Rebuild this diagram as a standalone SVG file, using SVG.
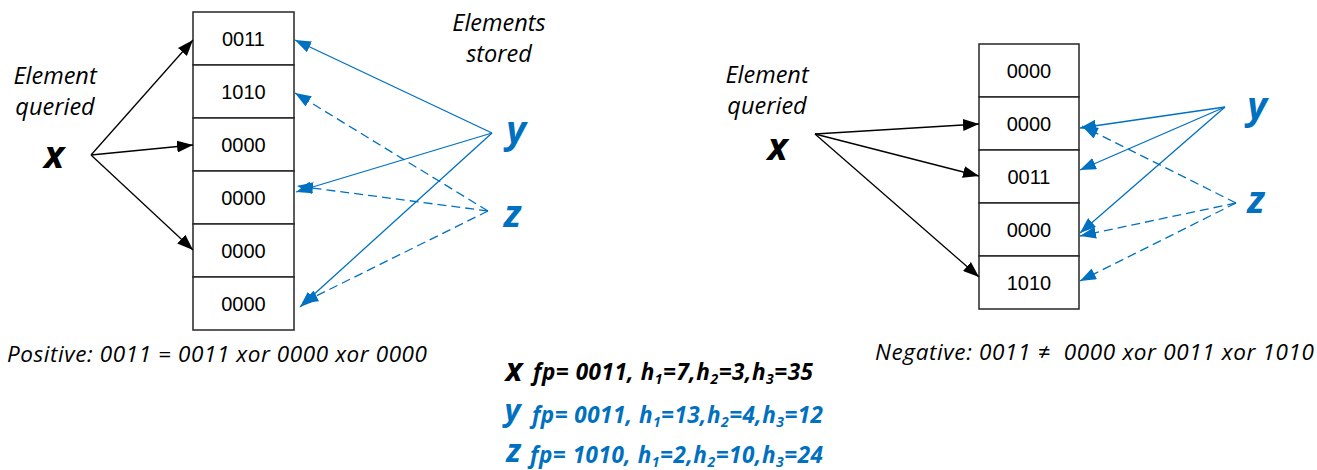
<svg xmlns="http://www.w3.org/2000/svg" width="1317" height="470" viewBox="0 0 1317 470">
<style>
.cell{fill:#fff;stroke:#262626;stroke-width:1.5}
.val{font-family:"Liberation Sans",Arial,sans-serif;font-size:20px;fill:#000;text-anchor:middle}
.lbl{font-family:"Open Sans","Noto Sans",sans-serif;font-style:italic;font-size:23.5px;fill:#000;text-anchor:middle}
.big{font-family:"Open Sans","Noto Sans",sans-serif;font-style:italic;font-weight:bold;font-size:38px;text-anchor:middle}
.leg{font-family:"Open Sans","Noto Sans",sans-serif;font-style:italic;font-weight:bold;font-size:22.5px}
.res{font-family:"Open Sans","Noto Sans",sans-serif;font-style:italic;font-size:22.5px;fill:#000;white-space:pre}
.sub{font-size:14px}
.k{stroke:#000;stroke-width:1.3;fill:none;marker-end:url(#ak)}
.b{stroke:#0070C0;stroke-width:1.3;fill:none;marker-end:url(#ab)}
.bd{stroke:#0070C0;stroke-width:1.3;fill:none;stroke-dasharray:9,5;marker-end:url(#ab)}
.blue{fill:#0070C0}
.black{fill:#000}
</style>
<defs>
<marker id="ak" markerUnits="userSpaceOnUse" markerWidth="16" markerHeight="12" refX="16" refY="6" orient="auto"><path d="M0,0 L16,6 L0,12 z" fill="#000"/></marker>
<marker id="ab" markerUnits="userSpaceOnUse" markerWidth="16" markerHeight="12" refX="16" refY="6" orient="auto"><path d="M0,0 L16,6 L0,12 z" fill="#0070C0"/></marker>
</defs>

<g id="left-table">
<rect class="cell" x="193" y="12" width="101" height="53"/><text class="val" x="243.5" y="45.5">0011</text>
<rect class="cell" x="193" y="65" width="101" height="53"/><text class="val" x="243.5" y="98.5">1010</text>
<rect class="cell" x="193" y="118" width="101" height="53"/><text class="val" x="243.5" y="151.5">0000</text>
<rect class="cell" x="193" y="171" width="101" height="53"/><text class="val" x="243.5" y="204.5">0000</text>
<rect class="cell" x="193" y="224" width="101" height="53"/><text class="val" x="243.5" y="257.5">0000</text>
<rect class="cell" x="193" y="277" width="101" height="53"/><text class="val" x="243.5" y="310.5">0000</text>
</g>

<g id="right-table">
<rect class="cell" x="979" y="44" width="100" height="53"/><text class="val" x="1029" y="77.5">0000</text>
<rect class="cell" x="979" y="97" width="100" height="53"/><text class="val" x="1029" y="130.5">0000</text>
<rect class="cell" x="979" y="150" width="100" height="53"/><text class="val" x="1029" y="183.5">0011</text>
<rect class="cell" x="979" y="203" width="100" height="53"/><text class="val" x="1029" y="236.5">0000</text>
<rect class="cell" x="979" y="256" width="100" height="53"/><text class="val" x="1029" y="289.5">1010</text>
</g>

<g id="connectors">
<line class="k" x1="91" y1="155" x2="193" y2="40"/>
<line class="k" x1="91" y1="155" x2="193" y2="145"/>
<line class="k" x1="91" y1="155" x2="193" y2="250"/>
<line class="b" x1="492" y1="133" x2="295" y2="40"/>
<line class="b" x1="492" y1="133" x2="296" y2="192"/>
<line class="b" x1="492" y1="133" x2="300" y2="307"/>
<line class="bd" x1="488" y1="211" x2="295" y2="93"/>
<line class="bd" x1="488" y1="211" x2="297" y2="186"/>
<line class="bd" x1="488" y1="211" x2="302" y2="303"/>
<line class="k" x1="815" y1="134" x2="979" y2="124"/>
<line class="k" x1="815" y1="134" x2="979" y2="176"/>
<line class="k" x1="815" y1="134" x2="979" y2="277"/>
<line class="b" x1="1225" y1="107" x2="1080" y2="128"/>
<line class="b" x1="1225" y1="107" x2="1080" y2="170"/>
<line class="b" x1="1225" y1="107" x2="1080" y2="233"/>
<line class="bd" x1="1236" y1="203" x2="1082" y2="126"/>
<line class="bd" x1="1236" y1="203" x2="1080" y2="236"/>
<line class="bd" x1="1236" y1="203" x2="1080" y2="281"/>
</g>

<g id="left-query">
<text class="lbl" x="55" y="84">Element</text>
<text class="lbl" x="55" y="115">queried</text>
<text class="big black" x="54" y="168">x</text>
</g>
<g id="left-stored">
<text class="lbl" x="499" y="31">Elements</text>
<text class="lbl" x="499" y="62">stored</text>
<text class="big blue" x="516" y="143">y</text>
<text class="big blue" x="512.5" y="227">z</text>
</g>

<g id="right-query">
<text class="lbl" x="767" y="83">Element</text>
<text class="lbl" x="767" y="113.5">queried</text>
<text class="big black" x="777.5" y="160">x</text>
</g>
<g id="right-stored">
<text class="big blue" x="1257" y="119">y</text>
<text class="big blue" x="1256" y="213">z</text>
</g>

<g id="results">
<text class="res" x="7" y="361.5" textLength="420">Positive: 0011 = 0011 xor 0000 xor 0000</text>
<text class="res" x="875" y="359.5" textLength="439">Negative: 0011 ≠  0000 xor 0011 xor 1010</text>
</g>

<g id="legend">
<text class="big black" x="514" y="381" style="font-size:32px">x</text>
<text class="leg black" x="533" y="380" textLength="280">fp= 0011, h<tspan class="sub" dy="4">1</tspan><tspan dy="-4">=7,h</tspan><tspan class="sub" dy="4">2</tspan><tspan dy="-4">=3,h</tspan><tspan class="sub" dy="4">3</tspan><tspan dy="-4">=35</tspan></text>
<text class="big blue" x="512.5" y="421" style="font-size:31px">y</text>
<text class="leg blue" x="532" y="423" textLength="291">fp= 0011, h<tspan class="sub" dy="4">1</tspan><tspan dy="-4">=13,h</tspan><tspan class="sub" dy="4">2</tspan><tspan dy="-4">=4,h</tspan><tspan class="sub" dy="4">3</tspan><tspan dy="-4">=12</tspan></text>
<text class="big blue" x="513.5" y="462" style="font-size:32px">z</text>
<text class="leg blue" x="530" y="463" textLength="293">fp= 1010, h<tspan class="sub" dy="4">1</tspan><tspan dy="-4">=2,h</tspan><tspan class="sub" dy="4">2</tspan><tspan dy="-4">=10,h</tspan><tspan class="sub" dy="4">3</tspan><tspan dy="-4">=24</tspan></text>
</g>
</svg>
